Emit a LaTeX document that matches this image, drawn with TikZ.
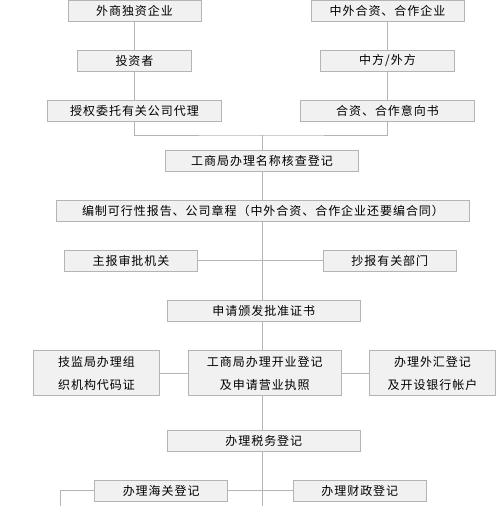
\documentclass[tikz,border=0pt]{standalone}
\usepackage{fontspec}
\newfontfamily\cjk[LetterSpace=8]{Noto Sans CJK SC}
\usepackage{tikz}
\usetikzlibrary{positioning}
\definecolor{boxfill}{HTML}{F1F1F1}
\definecolor{boxline}{HTML}{B4B4B4}

\begin{document}
\begin{tikzpicture}[x=1pt, y=-1pt,
  box/.style={draw=boxline, fill=boxfill, line width=1pt, inner sep=0pt,
    minimum height=21pt, align=center, text=black,
    font={\cjk\fontsize{12}{23}\selectfont}},
  link/.style={draw=boxline, line width=1pt}]
\useasboundingbox (0,0) rectangle (496,506);

% junction points and loose ends
\coordinate (join) at (262,135);
\coordinate (lend) at (60.5,506);
\coordinate (cend) at (262,506);

% top rows
\node[box, minimum width=133pt] (wsdz) at (134.5,10.7) {外商独资企业};
\node[box, minimum width=153pt] (zwhz) at (387.5,10.7) {中外合资、合作企业};
\node[box, minimum width=114pt] (tzz) at (134.5,60.7) {投资者};
\node[box, minimum width=134pt] (zfwf) at (387.5,60.7) {中方/外方};
\node[box, minimum width=174pt] (sqwt) at (134.5,110.7) {授权委托有关公司代理};
\node[box, minimum width=174pt] (yxs) at (387.5,110.7) {合资、合作意向书};

% centre column
\node[box, minimum width=193pt] (mchc) at (262,160.7) {工商局办理名称核查登记};
\node[box, minimum width=413pt] (bzbg) at (263,210.8) {编制可行性报告、公司章程（中外合资、合作企业还要编合同）};
\node[box, minimum width=133pt] (zbsp) at (131,260.8) {主报审批机关};
\node[box, minimum width=133pt] (cbbm) at (389.8,260.8) {抄报有关部门};
\node[box, minimum width=193pt] (pzzs) at (263.8,310.8) {申请颁发批准证书};
\node[box, minimum width=126pt, minimum height=45pt] (jjdm) at (96.5,373) {技监局办理组\\织机构代码证};
\node[box, minimum width=153pt, minimum height=45pt] (kydj) at (264.8,373) {工商局办理开业登记\\及申请营业执照};
\node[box, minimum width=126pt, minimum height=45pt] (whdj) at (432.5,373) {办理外汇登记\\及开设银行帐户};
\node[box, minimum width=193pt] (swdj) at (263.8,440.8) {办理税务登记};
\node[box, minimum width=133pt] (hgdj) at (161.2,490.8) {办理海关登记};
\node[box, minimum width=133pt] (czdj) at (359.8,490.8) {办理财政登记};

% connectors
\draw[link] (wsdz) -- (tzz);
\draw[link] (tzz) -- (sqwt);
\draw[link] (zwhz) -- (zfwf);
\draw[link] (zfwf) -- (yxs);
\draw[link] (sqwt) |- (join) -| (yxs);
\draw[link] (join) -- (mchc);
\draw[link] (mchc.south -| join) -- (bzbg.north -| join);
\draw[link] (bzbg.south -| join) -- (pzzs.north -| join);
\draw[link] (zbsp) -- (cbbm);
\draw[link] (pzzs.south -| join) -- (kydj.north -| join);
\draw[link] (jjdm) -- (kydj);
\draw[link] (kydj) -- (whdj);
\draw[link] (kydj.south -| join) -- (swdj.north -| join);
\draw[link] (swdj.south -| join) -- (cend);
\draw[link] (hgdj) -- (czdj);
\draw[link] (hgdj) -| (lend);
\end{tikzpicture}
\end{document}
